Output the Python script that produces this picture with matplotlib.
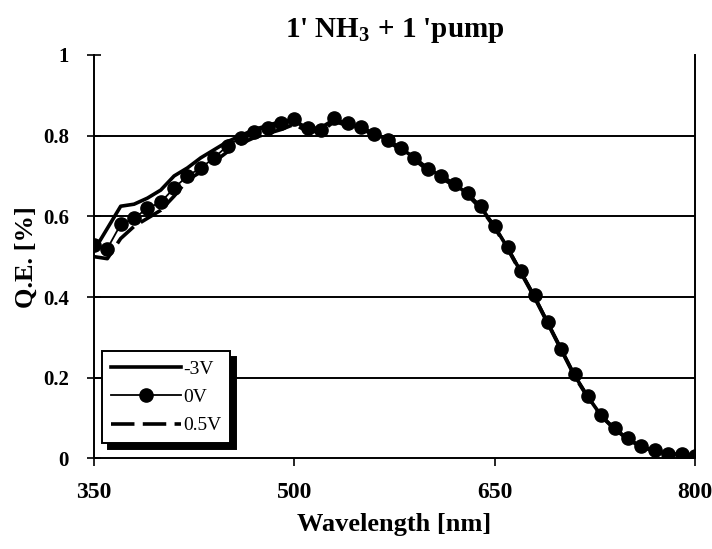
import matplotlib
matplotlib.use('Agg')
import matplotlib.pyplot as plt

plt.rcParams['font.family'] = ['Liberation Serif', 'DejaVu Serif']
plt.rcParams['mathtext.fontset'] = 'custom'
plt.rcParams['mathtext.rm'] = 'Liberation Serif:bold'
plt.rcParams['mathtext.bf'] = 'Liberation Serif:bold'

wavelength = [350, 360, 370, 380, 390, 400, 410, 420, 430, 440,
              450, 460, 470, 480, 490, 500, 510, 520, 530, 540,
              550, 560, 570, 580, 590, 600, 610, 620, 630, 640,
              650, 660, 670, 680, 690, 700, 710, 720, 730, 740,
              750, 760, 770, 780, 790, 800]

qe_m3v = [0.515, 0.57, 0.625, 0.63, 0.645, 0.665, 0.70, 0.72, 0.745, 0.765,
          0.785, 0.80, 0.815, 0.825, 0.835, 0.838, 0.815, 0.82, 0.84, 0.828,
          0.82, 0.805, 0.79, 0.768, 0.745, 0.718, 0.70, 0.68, 0.655, 0.62,
          0.575, 0.52, 0.46, 0.40, 0.335, 0.27, 0.205, 0.152, 0.105, 0.073,
          0.048, 0.029, 0.019, 0.012, 0.010, 0.006]

qe_0v = [0.53, 0.52, 0.58, 0.595, 0.62, 0.635, 0.67, 0.70, 0.72, 0.745,
         0.775, 0.795, 0.81, 0.82, 0.83, 0.84, 0.82, 0.815, 0.843, 0.83,
         0.822, 0.805, 0.79, 0.77, 0.745, 0.718, 0.70, 0.68, 0.658, 0.625,
         0.577, 0.524, 0.464, 0.404, 0.338, 0.272, 0.208, 0.154, 0.107, 0.075,
         0.050, 0.030, 0.020, 0.012, 0.010, 0.006]

qe_05v = [0.50, 0.495, 0.545, 0.575, 0.595, 0.615, 0.65, 0.69, 0.71, 0.735,
          0.76, 0.78, 0.795, 0.805, 0.815, 0.828, 0.81, 0.81, 0.835, 0.825,
          0.818, 0.80, 0.785, 0.765, 0.74, 0.714, 0.695, 0.675, 0.652, 0.618,
          0.572, 0.518, 0.458, 0.398, 0.333, 0.268, 0.203, 0.15, 0.104, 0.072,
          0.047, 0.028, 0.018, 0.011, 0.009, 0.005]

x_ticks = [350, 500, 650, 800]
y_ticks = [0, 0.2, 0.4, 0.6, 0.8, 1]
y_labels = ['0', '0.2', '0.4', '0.6', '0.8', '1']

fig = plt.figure(figsize=(7.12, 5.49), dpi=100)
ax = fig.add_axes([0.132, 0.165, 0.844, 0.735])

ax.plot(wavelength, qe_m3v, c='black', linewidth=2.6, label='-3V')
ax.plot(wavelength, qe_0v, c='black', linewidth=1.3, marker='o', markersize=9.5, label='0V')
ax.plot(wavelength, qe_05v, c='black', linewidth=2.6, linestyle=(0, (6.5, 2.3)), label='0.5V')

ax.set_xlim(350, 800)
ax.set_ylim(0, 1)
ax.set_xticks(x_ticks)
ax.set_yticks(y_ticks)
ax.set_yticklabels(y_labels)
ax.tick_params(axis='x', direction='out', length=6, width=1.2, labelsize=17, pad=11)
ax.tick_params(axis='y', direction='inout', length=10, width=1.2, labelsize=15, pad=13)
for lab in ax.get_xticklabels() + ax.get_yticklabels():
    lab.set_fontweight('bold')

# gridlines drawn like the Excel original
for yv in [0.2, 0.4, 0.6, 0.8]:
    ax.axhline(yv, color='black', linewidth=1.4, zorder=0)

for side in ['left', 'bottom', 'right']:
    ax.spines[side].set_linewidth(1.4)
ax.spines['top'].set_visible(False)

ax.set_title("1' NH$_3$ + 1 'pump", fontsize=21, fontweight='bold', pad=13)
ax.set_xlabel('Wavelength [nm]', fontsize=19, fontweight='bold', labelpad=7)
ax.set_ylabel('Q.E. [%]', fontsize=19, fontweight='bold', labelpad=4)

leg = ax.legend(loc='lower left', bbox_to_anchor=(0.014, 0.038), borderaxespad=0,
                fontsize=14, handlelength=3.6, handletextpad=0.1, labelspacing=0.55,
                borderpad=0.45, fancybox=False, edgecolor='black',
                shadow={'color': 'black', 'alpha': 1, 'ox': 4, 'oy': -4})
leg.get_frame().set_linewidth(1.4)

plt.savefig('out.png', dpi=100)
